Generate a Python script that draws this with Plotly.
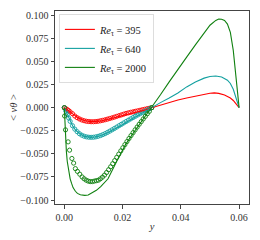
import plotly.graph_objects as go

# ---- model curves (lines) ----
red_x = [0, 0.0005, 0.001, 0.0015, 0.002, 0.003, 0.004, 0.005, 0.006, 0.007, 0.008, 0.009, 0.010, 0.011, 0.012,
         0.014, 0.016, 0.018, 0.020, 0.022, 0.024, 0.026, 0.028, 0.030, 0.033, 0.036, 0.039, 0.042, 0.045,
         0.048, 0.050, 0.0515, 0.053, 0.055, 0.057, 0.058, 0.059, 0.060]
red_v = [0, -0.0010, -0.0020, -0.0032, -0.0045, -0.0070, -0.0097, -0.0115, -0.0130, -0.0140, -0.0147, -0.0151,
         -0.0152, -0.0150, -0.0146, -0.0134, -0.0119, -0.0102, -0.0086, -0.0070, -0.0056, -0.0040, -0.0022,
         0.0, 0.0030, 0.0058, 0.0083, 0.0105, 0.0127, 0.0147, 0.0157, 0.0160, 0.0155, 0.0138, 0.0105, 0.0078,
         0.0042, 0.0]

teal_x = [0, 0.0005, 0.001, 0.0015, 0.002, 0.003, 0.004, 0.005, 0.006, 0.007, 0.008, 0.009, 0.010, 0.011, 0.012,
          0.014, 0.016, 0.018, 0.020, 0.022, 0.024, 0.026, 0.028, 0.030, 0.033, 0.036, 0.039, 0.042, 0.045,
          0.048, 0.050, 0.052, 0.054, 0.056, 0.057, 0.058, 0.059, 0.060]
teal_v = [0, -0.0035, -0.0075, -0.0112, -0.0148, -0.0205, -0.0247, -0.0275, -0.0297, -0.0311, -0.0318, -0.0321,
          -0.0320, -0.0315, -0.0306, -0.0285, -0.0254, -0.0220, -0.0185, -0.0145, -0.0107, -0.0070, -0.0035,
          0.0, 0.0055, 0.0105, 0.0160, 0.0225, 0.0278, 0.0320, 0.0337, 0.0343, 0.0332, 0.0298, 0.0262, 0.0200,
          0.0110, 0.0]

green_x = [0, 0.0002, 0.0004, 0.0007, 0.001, 0.0015, 0.002, 0.0025, 0.003, 0.0038, 0.0045, 0.0055, 0.007, 0.0082,
           0.0095, 0.011, 0.0125, 0.0140, 0.015, 0.018, 0.021, 0.024, 0.027, 0.030, 0.033, 0.036, 0.039, 0.042,
           0.045, 0.048, 0.050, 0.052, 0.053, 0.054, 0.055, 0.056, 0.057, 0.058, 0.059, 0.060]
green_v = [0, -0.017, -0.031, -0.047, -0.058, -0.069, -0.077, -0.082, -0.0865, -0.0905, -0.0928, -0.0943, -0.0950,
           -0.0945, -0.0925, -0.0895, -0.0855, -0.0805, -0.0770, -0.0580, -0.0400, -0.0260, -0.0130, 0.0, 0.0140,
           0.0280, 0.0420, 0.0548, 0.0680, 0.0810, 0.0893, 0.0945, 0.0960, 0.0958, 0.0945, 0.0905, 0.0815,
           0.0620, 0.0330, 0.0]

# ---- DNS data (circles) ----
red_dx = [0, 0.0005, 0.0010, 0.0015, 0.0020, 0.0028, 0.0036, 0.0044, 0.0052, 0.0060, 0.0068, 0.0076, 0.0084,
          0.0092, 0.0100, 0.0108, 0.0116, 0.0124, 0.0132, 0.0140, 0.0148, 0.0156, 0.0164, 0.0172, 0.0180,
          0.0188, 0.0196, 0.0204, 0.0212, 0.0220, 0.0228, 0.0236, 0.0244, 0.0252, 0.0260, 0.0268, 0.0276,
          0.0284, 0.0292, 0.0300]
red_dv = [0, -0.0010, -0.0020, -0.0032, -0.0045, -0.0065, -0.0090, -0.0108, -0.0122, -0.0133, -0.0141, -0.0147,
          -0.0150, -0.0152, -0.0152, -0.0150, -0.0147, -0.0142, -0.0137, -0.0131, -0.0124, -0.0117, -0.0110,
          -0.0102, -0.0094, -0.0086, -0.0078, -0.0070, -0.0062, -0.0056, -0.0050, -0.0045, -0.0039, -0.0034,
          -0.0028, -0.0022, -0.0017, -0.0011, -0.0006, 0.0]

teal_dx = red_dx
teal_dv = [0, -0.0035, -0.0075, -0.0112, -0.0148, -0.0195, -0.0232, -0.0260, -0.0282, -0.0298, -0.0309, -0.0316,
           -0.0320, -0.0321, -0.0320, -0.0316, -0.0310, -0.0302, -0.0292, -0.0281, -0.0268, -0.0254, -0.0240,
           -0.0225, -0.0210, -0.0195, -0.0180, -0.0165, -0.0150, -0.0135, -0.0121, -0.0107, -0.0093, -0.0079,
           -0.0066, -0.0052, -0.0039, -0.0026, -0.0013, 0.0]

green_dx = [0, 0.0001, 0.0004, 0.0013, 0.0018, 0.0026, 0.0032, 0.0038, 0.0045, 0.0053, 0.0061, 0.0068, 0.0075,
            0.0082, 0.0089, 0.0096, 0.0103, 0.0110, 0.0117, 0.0124, 0.0131, 0.0138, 0.0145, 0.0152, 0.0159,
            0.0166, 0.0173, 0.0180, 0.0187, 0.0194, 0.0201, 0.0208, 0.0215, 0.0222, 0.0229, 0.0236, 0.0243,
            0.0250, 0.0257, 0.0264, 0.0271, 0.0278, 0.0285, 0.0292, 0.0300]
green_dv = [0, -0.009, -0.024, -0.037, -0.046, -0.055, -0.060, -0.066, -0.069, -0.072, -0.075, -0.077, -0.0785,
            -0.0795, -0.0800, -0.0800, -0.0795, -0.0790, -0.0785, -0.0770, -0.0752, -0.0730, -0.0702, -0.0672,
            -0.0640, -0.0607, -0.0573, -0.0538, -0.0503, -0.0468, -0.0434, -0.0400, -0.0367, -0.0334, -0.0302,
            -0.0271, -0.0240, -0.0210, -0.0180, -0.0151, -0.0122, -0.0094, -0.0066, -0.0039, 0.0]

labels = ["<i>Re</i><sub>τ</sub> = 395", "<i>Re</i><sub>τ</sub> = 640", "<i>Re</i><sub>τ</sub> = 2000"]
colors = ["#ff0000", "#13a0a0", "#108010"]

y_ticks = [-0.100, -0.075, -0.050, -0.025, 0.000, 0.025, 0.050, 0.075, 0.100]
x_ticks = [0.00, 0.02, 0.04, 0.06]

FONT = "Liberation Serif"

fig = go.Figure()
for dx, dv, c in [(red_dx, red_dv, colors[0]), (teal_dx, teal_dv, colors[1]), (green_dx, green_dv, colors[2])]:
    fig.add_trace(go.Scatter(x=dx, y=dv, mode="markers", showlegend=False,
                             marker=dict(symbol="circle-open", size=4.2, color=c, line=dict(width=0.9, color=c))))
for lx, lv, c, lab in [(red_x, red_v, colors[0], labels[0]), (teal_x, teal_v, colors[1], labels[1]),
                       (green_x, green_v, colors[2], labels[2])]:
    fig.add_trace(go.Scatter(x=lx, y=lv, mode="lines", name=lab, line=dict(color=c, width=1.1)))

axis_common = dict(showgrid=False, zeroline=False, showline=True, linecolor="#444", linewidth=1, mirror=True,
                   ticks="outside", ticklen=3.5, tickwidth=0.8, tickcolor="#444", automargin=False,
                   tickfont=dict(family=FONT, size=10, color="#333"))
fig.update_xaxes(range=[-0.0032, 0.0634], tickvals=x_ticks, tickformat=".2f",
                 title=dict(text="<i>y</i>", font=dict(family=FONT, size=10.5, color="#333"), standoff=1),
                 **axis_common)
fig.update_yaxes(range=[-0.1043, 0.1047], tickvals=y_ticks, tickformat=".3f",
                 title=dict(text="&lt; <i>vθ</i> &gt;", font=dict(family=FONT, size=10.5, color="#333"), standoff=5),
                 **axis_common)
# page body adds an 8px offset; sizes/margins compensate so the plot area sits at the reference position
fig.update_layout(width=252, height=232, margin=dict(l=47, r=11, t=3, b=36),
                  paper_bgcolor="white", plot_bgcolor="white",
                  legend=dict(x=0.02, y=0.985, xanchor="left", yanchor="top", bgcolor="rgba(255,255,255,0.8)",
                              bordercolor="#ddd", borderwidth=1, font=dict(family=FONT, size=10.5, color="#222"),
                              tracegroupgap=0, itemwidth=30))
fig.write_html("out.html")
